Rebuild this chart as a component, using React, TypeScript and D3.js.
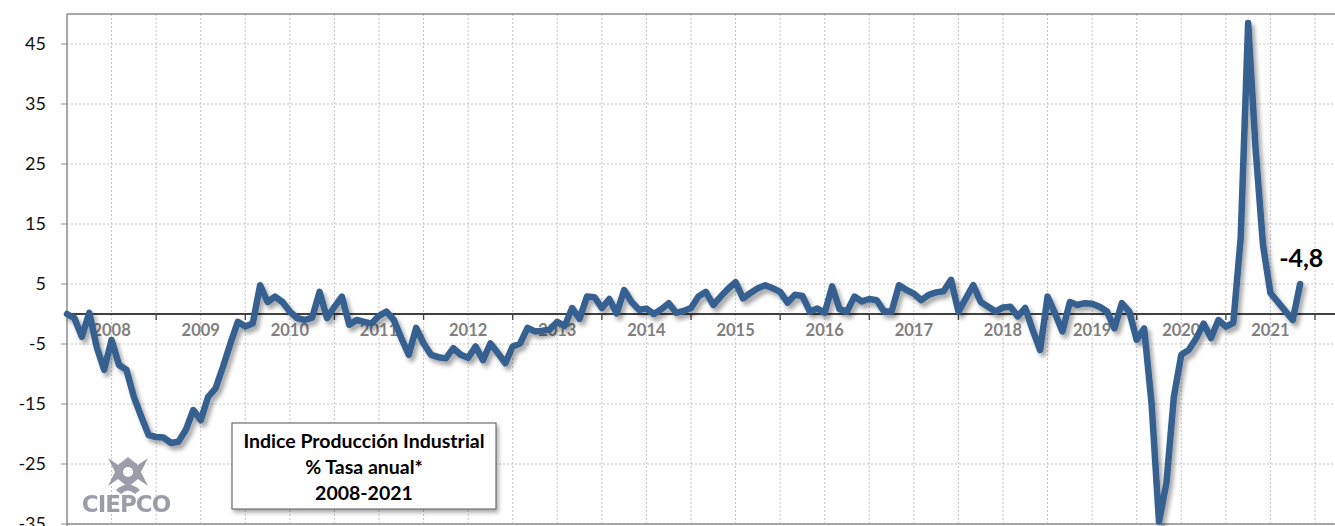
import React from "react";
import * as d3 from "d3";

const yearLabels = ["2008","2009","2010","2011","2012","2013","2014","2015","2016","2017","2018","2019","2020","2021"];
const v2008 = [0, -0.7, -3.8, 0.2, -5.5, -9.3, -4.3, -8.5, -9.3, -13.8, -17.1, -20.2];
const v2009 = [-20.5, -20.6, -21.5, -21.3, -19.3, -16.0, -17.7, -13.8, -12.4, -8.8, -4.9, -1.3];
const v2010 = [-2.1, -1.6, 4.8, 2.0, 2.9, 2.0, 0.4, -0.7, -1.0, -0.6, 3.7, -0.7];
const v2011 = [1.2, 2.9, -1.8, -1.0, -1.3, -1.6, -0.3, 0.4, -1.0, -4.0, -6.8, -2.3];
const v2012 = [-4.9, -6.8, -7.2, -7.4, -5.7, -6.8, -7.3, -5.4, -7.7, -4.9, -6.5, -8.2];
const v2013 = [-5.4, -4.9, -2.3, -2.9, -2.8, -2.6, -1.3, -2.0, 1.0, -0.8, 2.9, 2.8];
const v2014 = [1.0, 2.5, 0.1, 4.0, 2.0, 0.7, 0.9, 0.0, 0.8, 1.8, 0.2, 0.5];
const v2015 = [1.0, 2.9, 3.7, 1.5, 2.9, 4.2, 5.3, 2.6, 3.5, 4.3, 4.8, 4.3];
const v2016 = [3.7, 1.9, 3.2, 3.0, 0.4, 0.9, 0.2, 4.6, 0.8, 0.4, 2.9, 2.1];
const v2017 = [2.5, 2.3, 0.4, 0.4, 4.8, 4.0, 3.4, 2.3, 3.2, 3.6, 3.8, 5.7];
const v2018 = [0.4, 2.6, 4.8, 2.0, 1.2, 0.4, 1.1, 1.2, -0.4, 1.0, -2.7, -6.0];
const v2019 = [2.9, 0.1, -2.9, 2.0, 1.5, 1.8, 1.7, 1.2, 0.4, -2.4, 1.8, 0.4];
const v2020 = [-4.3, -2.4, -14.9, -34.6, -28.2, -13.8, -6.8, -6.0, -4.1, -1.6, -4.0, -1.0];
const v2021 = [-2.1, -1.5, 12.7, 48.5, 27.6, 11.5, 3.5, 2.0, 0.5, -1.0, 5.0];

const yTicks = [45, 35, 25, 15, 5, -5, -15, -25, -35];
const titleLines = ["Indice Producción Industrial", "% Tasa anual*", "2008-2021"];
const lastLabel = "-4,8";

const values = [
  ...v2008, ...v2009, ...v2010, ...v2011, ...v2012, ...v2013, ...v2014,
  ...v2015, ...v2016, ...v2017, ...v2018, ...v2019, ...v2020, ...v2021,
];

export default function App() {
  const W = 1335, H = 526;
  const x = d3.scaleLinear().domain([0, 168]).range([67, 1315]);
  const y = d3.scaleLinear().domain([-35, 50]).range([524, 14]);
  const line = d3.line<number>().x((_, i) => x(i)).y((d) => y(d)).curve(d3.curveLinear);
  const halfYears = d3.range(1, 30).map((k) => k * 6);
  const yearStarts = d3.range(1, 15).map((k) => k * 12);
  const font = "Lato, 'Open Sans', sans-serif";
  const lastI = values.length - 1;

  return (
    <svg width={W} height={H} style={{ position: "absolute", left: 0, top: 0, background: "#fff" }}>
      <defs>
        <filter id="sh" x="-10%" y="-10%" width="120%" height="120%">
          <feDropShadow dx="3" dy="4" stdDeviation="2.2" floodColor="#000" floodOpacity="0.35" />
        </filter>
        <filter id="bsh" x="-10%" y="-10%" width="120%" height="130%">
          <feDropShadow dx="2" dy="3" stdDeviation="2" floodColor="#000" floodOpacity="0.35" />
        </filter>
      </defs>
      <rect x={0} y={0} width={W} height={H} fill="#fff" />
      {/* horizontal grid */}
      {yTicks.map((t) => (
        <line key={"h" + t} x1={67} x2={W} y1={y(t)} y2={y(t)} stroke="#c4c4c4" strokeWidth={1} strokeDasharray="2,2" />
      ))}
      {/* vertical grid */}
      {halfYears.map((m) => (
        <line key={"v" + m} x1={x(m)} x2={x(m)} y1={14} y2={524} stroke="#c4c4c4" strokeWidth={1} strokeDasharray="2,2" />
      ))}
      {/* frame */}
      <line x1={67} x2={W} y1={14} y2={14} stroke="#8c8c8c" strokeWidth={1.5} />
      <line x1={67} x2={W} y1={524} y2={524} stroke="#8c8c8c" strokeWidth={1.5} />
      <line x1={67} x2={67} y1={14} y2={526} stroke="#8c8c8c" strokeWidth={1.5} />
      {/* y ticks */}
      {yTicks.map((t) => (
        <g key={"yt" + t}>
          <line x1={61} x2={67} y1={y(t)} y2={y(t)} stroke="#8c8c8c" strokeWidth={1} />
          <text x={46} y={y(t)} dy="0.36em" textAnchor="end" fontFamily={font} fontSize={18} fill="#111">{t}</text>
        </g>
      ))}
      {/* zero axis */}
      <line x1={67} x2={W} y1={y(0)} y2={y(0)} stroke="#000" strokeWidth={1.3} />
      {yearStarts.map((m) => (
        <line key={"zt" + m} x1={x(m)} x2={x(m)} y1={y(0)} y2={y(0) + 6} stroke="#444" strokeWidth={1.3} />
      ))}
      {yearLabels.map((lab, i) => (
        <text key={lab} x={x(i * 12 + 6)} y={336} textAnchor="middle" fontFamily={font} fontWeight={700} fontSize={16.5} fill="#7f7f7f">{lab}</text>
      ))}
      {/* logo */}
      <g fill="#8d8d9c" opacity={0.85}>
        <path d="M108,458 L118,465 L128,457 L138,465 L148,458 L141,472 L148,486 L138,479 L128,487 L118,479 L108,486 L115,472 Z" />
        <circle cx={128} cy={472} r={5} fill="#fff" />
        <path d="M116,490 Q128,479 140,490 L135,494 Q128,487 121,494 Z" />
        <text x={126} y={512} textAnchor="middle" fontFamily="'DejaVu Sans', sans-serif" fontWeight={700} fontSize={23} letterSpacing={-1}>CIEPCO</text>
      </g>
      {/* series */}
      <path d={line(values) || ""} fill="none" stroke="#35608f" strokeWidth={6.5} strokeLinejoin="round" strokeLinecap="round" filter="url(#sh)" />
      <text x={x(lastI) - 21} y={267} fontFamily={font} fontWeight={700} fontSize={25} fill="#000">{lastLabel}</text>
      {/* title box */}
      <rect x={232} y={423} width={264} height={86} fill="#fff" stroke="#555" strokeWidth={1} filter="url(#bsh)" />
      {titleLines.map((t, i) => (
        <text key={t} x={364} y={448 + i * 26} textAnchor="middle" fontFamily={font} fontWeight={700} fontSize={19.5} fill="#000">{t}</text>
      ))}
    </svg>
  );
}
